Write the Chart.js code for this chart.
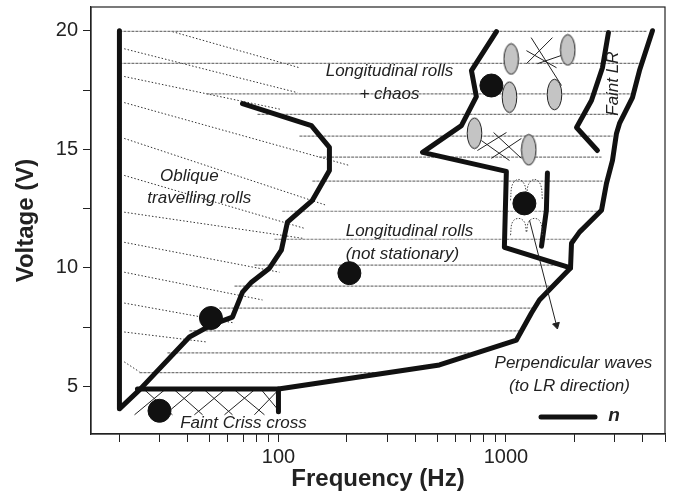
<!DOCTYPE html>
<html>
<head>
<meta charset="utf-8">
<script src="https://cdn.jsdelivr.net/npm/chart.js@4/dist/chart.umd.min.js"></script>
<style>
  html, body { margin: 0; padding: 0; background: #fff; }
</style>
</head>
<body>
<canvas id="chart" width="685" height="500"></canvas>
<script>
// Phase diagram: voltage vs frequency (log)

// axis ticks
const freqTicks = [20, 30, 40, 50, 60, 70, 80, 90, 100, 200, 300, 400, 500, 600, 700, 800, 900, 1000, 2000, 3000, 4000, 5000];
const freqLabels = [100, 1000];
const voltTicks = [5, 7.5, 10, 12.5, 15, 17.5, 20];
const voltLabels = [5, 10, 15, 20];

// thick boundary lines (Hz / V)
const leftF = [20, 20, 24.5, 40.6, 50.8, 62.8, 69.5, 76.1, 91.3, 103, 109.5, 141, 167.5, 167.5, 139.6, 69.5];
const leftV = [20, 4.06, 4.86, 7.09, 7.6, 7.93, 8.98, 9.4, 9.99, 10.75, 11.93, 12.85, 14.11, 15.08, 16.0, 16.93];
const lowerF = [24, 100, 510, 1112, 1294, 1403, 1922, 1941, 2104, 2630, 2766, 2939, 3060, 3155, 3597, 3862, 4404];
const lowerV = [4.9, 4.9, 5.91, 6.96, 8.1, 8.65, 10.0, 11.04, 11.51, 12.43, 13.57, 14.53, 15.67, 16.09, 17.18, 18.32, 20];
const stubF = [100, 100];
const stubV = [4.9, 3.94];
const chaosF = [908, 705, 741, 637, 430, 1004, 984, 1922];
const chaosV = [19.96, 18.32, 17.22, 16.0, 14.87, 14.07, 10.87, 10.0];
const faintF = [2821, 2655, 2376, 2042, 2523];
const faintV = [19.92, 18.44, 17.06, 15.92, 14.95];
const shortF = [1521, 1505, 1433];
const shortV = [14.0, 12.43, 10.92];

// horizontal hatching (longitudinal rolls)
const hatchV = [19.97, 18.62, 17.34, 16.47, 15.56, 14.67, 13.66, 12.39, 11.21, 10.12, 9.23, 8.31, 7.35, 6.42, 5.59];
const hatchFrom = [20, 20, 48.3, 80.9, 123.7, 151, 141, 104, 96, 78.4, 64.1, 55.0, 40.6, 32.5, 24.5];
const hatchTo = [4146, 3983, 3597, 3060, 2939, 2630, 2655, 2576, 1941, 1845, 1600, 1305, 1169, 691, 307];

// oblique hatching (travelling rolls)
const oblF0 = [34.2, 21, 21, 21, 21, 21, 21, 21, 21, 21, 21, 21];
const oblV0 = [19.96, 19.24, 18.07, 16.97, 15.46, 13.9, 12.35, 11.08, 9.82, 8.52, 7.3, 6.04];
const oblF1 = [123.7, 121.2, 103, 205, 162.5, 130, 127.5, 101, 85.1, 64.1, 48.3, 24.5];
const oblV1 = [18.44, 17.39, 16.68, 14.32, 12.64, 11.67, 11.25, 9.82, 8.65, 7.68, 6.88, 5.62];

// criss-cross strokes
const crossF0 = [25.8, 34.9, 47.3, 64.1, 84.2, 23.3, 31.6, 42.7, 57.9, 78.4,
                 1290, 1230, 1230, 1375, 749, 863, 882, 780];
const crossV0 = [4.86, 4.86, 4.86, 4.86, 4.86, 3.81, 3.81, 3.81, 3.81, 3.81,
                 19.71, 18.61, 19.16, 18.61, 14.95, 14.62, 15.71, 15.37];
const crossF1 = [34.2, 46.4, 62.8, 86.8, 100, 31.6, 42.7, 57.9, 78.4, 100,
                 1754, 1601, 1668, 1843, 1005, 1169, 1169, 1036];
const crossV1 = [3.81, 3.81, 3.81, 3.81, 4.0, 4.86, 4.86, 4.86, 4.86, 4.86,
                 17.69, 19.71, 18.44, 19.03, 15.71, 15.46, 14.62, 14.53];

// wavy perpendicular-wave marks
const waveF = [1047, 1068, 1135, 1206, 1231, 1256, 1335, 1418, 1447];
const waveUpV = [12.85, 13.52, 13.73, 13.52, 13.06, 13.52, 13.73, 13.52, 12.85];
const waveLoV = [11.38, 11.93, 12.09, 11.93, 11.51, 11.93, 12.09, 11.93, 11.38];
const arrowF = [1269, 1667];
const arrowV = [12.01, 7.59];

// markers
const dotF = [30, 50.5, 205, 1205, 863];
const dotV = [3.98, 7.89, 9.78, 12.72, 17.69];
const ovalF = [1054, 1869, 1634, 1036, 727, 1260];
const ovalV = [18.81, 19.19, 17.31, 17.2, 15.68, 14.98];

// region labels
const noteText = ['Longitudinal rolls', '+ chaos', 'Oblique', 'travelling rolls', 'Longitudinal rolls',
                  '(not stationary)', 'Perpendicular waves', '(to LR direction)', 'Faint Criss cross'];
const noteF = [307.6, 307.6, 40.6, 44.9, 376.6, 350.8, 1980, 1902, 70.2];
const noteV = [18.28, 17.31, 13.86, 12.94, 11.55, 10.58, 6.0, 5.03, 3.47];

// helpers
function pts(fs, vs) {
    return fs.map((f, i) => ({x: f, y: vs[i]}));
}
function strokes(f0, v0, f1, v1) {
    const out = [];
    f0.forEach((f, i) => {
        out.push({x: f, y: v0[i]}, {x: f1[i], y: v1[i]}, {x: f1[i], y: null});
    });
    return out;
}
function makeOval() {
    const c = document.createElement('canvas');
    c.width = 17; c.height = 33;
    const g = c.getContext('2d');
    g.beginPath();
    g.ellipse(8.5, 16.5, 7.3, 15.3, 0, 0, Math.PI * 2);
    g.fillStyle = '#c4c4c4';
    g.fill();
    g.lineWidth = 1;
    g.strokeStyle = '#222';
    g.stroke();
    return c;
}

const thick = {
    showLine: true, borderColor: '#111', borderWidth: 5, pointRadius: 0,
    borderCapStyle: 'round', borderJoinStyle: 'round', tension: 0, order: 3
};

Chart.defaults.font.family = "'Liberation Sans', Arial, sans-serif";
Chart.defaults.color = '#222';

// frame + text labels
const annotate = {
    id: 'annotate',
    afterDatasetsDraw(chart) {
        const {ctx, chartArea: a, scales: {x, y}} = chart;
        ctx.save();
        ctx.strokeStyle = '#222';
        ctx.lineWidth = 1.2;
        ctx.strokeRect(a.left, a.top, a.right - a.left, a.bottom - a.top);

        ctx.fillStyle = '#222';
        ctx.font = "italic 17px 'Liberation Sans', Arial, sans-serif";
        ctx.textAlign = 'center';
        ctx.textBaseline = 'middle';
        noteText.forEach((t, i) => {
            ctx.fillText(t, x.getPixelForValue(noteF[i]), y.getPixelForValue(noteV[i]));
        });

        // rotated "Faint LR"
        ctx.save();
        ctx.translate(x.getPixelForValue(2950), y.getPixelForValue(17.77));
        ctx.rotate(-Math.PI / 2);
        ctx.fillText('Faint LR', 0, 0);
        ctx.restore();

        // legend: thick line = n
        const ly = a.bottom - 17;
        ctx.strokeStyle = '#111';
        ctx.lineWidth = 5;
        ctx.lineCap = 'round';
        ctx.beginPath();
        ctx.moveTo(a.right - 124, ly);
        ctx.lineTo(a.right - 70, ly);
        ctx.stroke();
        ctx.font = "italic bold 19px 'Liberation Sans', Arial, sans-serif";
        ctx.fillText('n', a.right - 51, ly - 1);
        ctx.restore();
    }
};

new Chart(document.getElementById('chart'), {
    type: 'line',
    data: {
        datasets: [
            {
                data: pts(dotF, dotV), showLine: false, pointRadius: 11.5,
                pointBackgroundColor: '#111', pointBorderColor: '#111', order: 0
            },
            {
                data: pts(ovalF, ovalV), showLine: false, pointStyle: makeOval(), order: 1
            },
            {
                data: pts(arrowF, arrowV), showLine: true, borderColor: '#222', borderWidth: 1,
                pointRadius: [0, 4], pointStyle: 'triangle', pointRotation: 166,
                pointBackgroundColor: '#222', pointBorderColor: '#222', order: 2
            },
            {
                data: pts(waveF, waveUpV), showLine: true, borderColor: '#444', borderWidth: 1,
                borderDash: [1.5, 1.5], tension: 0.4, pointRadius: 0, order: 2
            },
            {
                data: pts(waveF, waveLoV), showLine: true, borderColor: '#444', borderWidth: 1,
                borderDash: [1.5, 1.5], tension: 0.4, pointRadius: 0, order: 2
            },
            Object.assign({data: pts(leftF, leftV)}, thick),
            Object.assign({data: pts(lowerF, lowerV)}, thick),
            Object.assign({data: pts(stubF, stubV)}, thick),
            Object.assign({data: pts(chaosF, chaosV)}, thick),
            Object.assign({data: pts(faintF, faintV)}, thick),
            Object.assign({data: pts(shortF, shortV)}, thick),
            {
                data: strokes(crossF0, crossV0, crossF1, crossV1), showLine: true, spanGaps: false,
                borderColor: '#222', borderWidth: 1, pointRadius: 0, order: 4
            },
            {
                data: strokes(hatchFrom, hatchV, hatchTo, hatchV), showLine: true, spanGaps: false,
                borderColor: '#777', borderWidth: 1.2, borderDash: [3, 1], pointRadius: 0, order: 5
            },
            {
                data: strokes(oblF0, oblV0, oblF1, oblV1), showLine: true, spanGaps: false,
                borderColor: '#333', borderWidth: 1, borderDash: [1.5, 2], pointRadius: 0, order: 5
            }
        ]
    },
    options: {
        responsive: false,
        animation: false,
        events: [],
        layout: {autoPadding: false, padding: {left: 0, right: 20, top: 7, bottom: 0}},
        plugins: {legend: {display: false}, tooltip: {enabled: false}},
        scales: {
            x: {
                type: 'logarithmic',
                min: 15,
                max: 5000,
                afterBuildTicks: (scale) => { scale.ticks = freqTicks.map(v => ({value: v})); },
                afterFit: (scale) => {
                    scale.height = 66;
                    scale.paddingLeft = 0;
                    scale.paddingRight = 0;
                },
                ticks: {
                    autoSkip: false, maxRotation: 0, padding: 3,
                    font: {size: 20}, color: '#222',
                    callback: (v) => freqLabels.includes(v) ? String(v) : ''
                },
                grid: {drawOnChartArea: false, drawTicks: true, tickLength: 8, color: '#222'},
                border: {display: true, color: '#222', width: 1.2},
                title: {
                    display: true, text: 'Frequency (Hz)', color: '#222',
                    font: {size: 24, weight: 'bold'}, padding: {top: 0, bottom: 6}
                }
            },
            y: {
                type: 'linear',
                min: 3,
                max: 21,
                afterBuildTicks: (scale) => { scale.ticks = voltTicks.map(v => ({value: v})); },
                afterFit: (scale) => {
                    scale.width = 91;
                    scale.paddingTop = 0;
                    scale.paddingBottom = 0;
                },
                ticks: {
                    padding: 5, font: {size: 20}, color: '#222',
                    callback: (v) => voltLabels.includes(v) ? String(v) : ''
                },
                grid: {drawOnChartArea: false, drawTicks: true, tickLength: 8, color: '#222'},
                border: {display: true, color: '#222', width: 1.2},
                title: {
                    display: true, text: 'Voltage (V)', color: '#222',
                    font: {size: 24, weight: 'bold'}, padding: {top: 12, bottom: 0}
                }
            }
        }
    },
    plugins: [annotate]
});
</script>
</body>
</html>
